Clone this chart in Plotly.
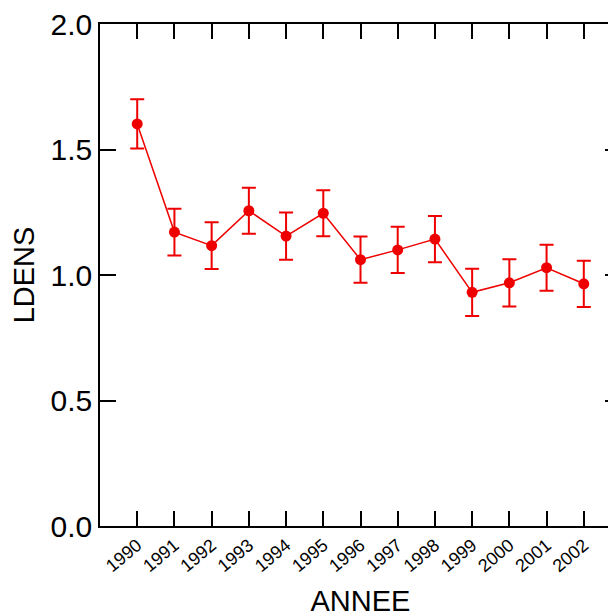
import plotly.graph_objects as go

years = [1990, 1991, 1992, 1993, 1994, 1995, 1996, 1997, 1998, 1999, 2000, 2001, 2002]
ldens = [1.602, 1.171, 1.117, 1.256, 1.155, 1.246, 1.061, 1.100, 1.143, 0.931, 0.969, 1.029, 0.965]
err = [0.098, 0.093, 0.093, 0.092, 0.094, 0.092, 0.092, 0.092, 0.092, 0.094, 0.094, 0.092, 0.092]
tick_labels = [str(y) for y in years]
yticks = [0.0, 0.5, 1.0, 1.5, 2.0]

RED = "#ee0000"
FONT = "Liberation Sans, Arial, sans-serif"

fig = go.Figure()
fig.add_trace(go.Scatter(
    x=years, y=ldens, mode="lines+markers",
    line=dict(color=RED, width=1.5),
    marker=dict(color=RED, size=11),
    error_y=dict(type="data", array=err, color=RED, thickness=2, width=7),
    showlegend=False,
))

# page body adds an 8px offset; margins compensate for it
fig.update_layout(
    width=616, height=613,
    margin=dict(l=92, r=3, t=16, b=95),
    paper_bgcolor="white", plot_bgcolor="white",
    font=dict(family=FONT, color="black"),
)
fig.update_xaxes(
    range=[1989, 2003], tickmode="array", tickvals=years, ticktext=tick_labels,
    tickangle=-40, tickfont=dict(size=18), ticks="inside", ticklen=15, tickwidth=1.5,
    tickcolor="black", showline=True, linecolor="black", linewidth=1.5, mirror="ticks",
    showgrid=False, zeroline=False, automargin=False, ticklabeloverflow="allow",
    title=dict(text="ANNEE", font=dict(size=29), standoff=16),
)
fig.update_yaxes(
    range=[0, 2], tickmode="array", tickvals=yticks, ticktext=[f"{v:.1f}" for v in yticks],
    tickfont=dict(size=30), ticks="inside", ticklen=16, tickwidth=1.5,
    tickcolor="black", showline=True, linecolor="black", linewidth=1.5, mirror="ticks",
    showgrid=False, zeroline=False, automargin=False, ticklabeloverflow="allow",
    title=dict(text="LDENS", font=dict(size=29), standoff=17),
)

fig.write_html("out.html")
